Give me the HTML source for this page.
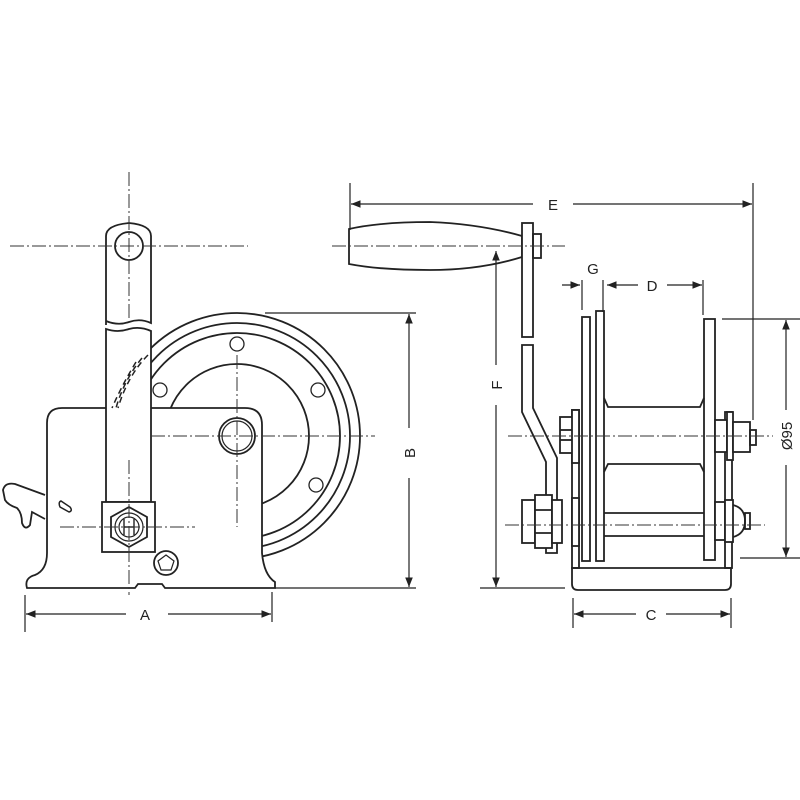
<!DOCTYPE html>
<html><head><meta charset="utf-8"><style>
html,body{margin:0;padding:0;background:#fff}
svg{display:block}
text{font-family:"Liberation Sans",sans-serif;font-size:15px;fill:#222}
</style></head><body>
<svg width="800" height="800" viewBox="0 0 800 800" xmlns="http://www.w3.org/2000/svg">
<defs>
<marker id="ar" viewBox="0 0 10 10" refX="10" refY="5" markerWidth="8" markerHeight="8" orient="auto-start-reverse"><path d="M0,1 L10,5 L0,9 z" fill="#222"/></marker>
</defs>
<g fill="none" stroke="#222" stroke-width="1.8">
<!-- LEFT VIEW: drum circles -->
<circle cx="237" cy="436" r="123"/>
<circle cx="237" cy="436" r="113"/>
<circle cx="237" cy="436" r="103"/>
<circle cx="237" cy="436" r="72"/>
<g stroke-width="1.3">
<circle cx="237" cy="344" r="7"/><circle cx="160" cy="390" r="7"/><circle cx="318" cy="390" r="7"/><circle cx="316" cy="485" r="7"/>
</g>
<!-- body -->
<path d="M62,408 L245,408 Q262,408 262,425 L262,553 Q264,575 275,582 L275,588 L165,588 L162,584 L138,584 L135,588 L27,588 Q24,578 35,575 Q47,570 47,553 L47,423 Q47,408 62,408 Z" fill="#fff"/>
<!-- hub -->
<circle cx="237" cy="436" r="18"/>
<circle cx="237" cy="436" r="15" stroke-width="1.2"/>
<!-- arm -->
<path d="M106,325 L106,236 Q106,225 129,223 Q151,225 151,236 L151,323 Q140,318 129,322 Q118,326 106,321" fill="#fff"/>
<path d="M106,329 Q118,333 129,329 Q140,326 151,331 L151,502 L106,502 Z" fill="#fff"/>
<circle cx="129" cy="246" r="14" fill="#fff"/>
<path d="M148,355 Q128,375 118,408 M142,358 Q124,380 116,408 M136,362 Q122,385 112,408" stroke-dasharray="6,4" stroke-width="1.5"/>
<!-- nut box -->
<rect x="102" y="502" width="53" height="50" fill="#fff"/>
<polygon points="129,507 147,517 147,537 129,547 111,537 111,517"/>
<circle cx="129" cy="527" r="14" stroke-width="1.2"/>
<circle cx="129" cy="527" r="10" stroke-width="1.2"/>
<path d="M124,519 L124,535 M134,519 L134,535 M124,527 L134,527" stroke-width="1.4"/>
<circle cx="166" cy="563" r="12"/>
<polygon points="166,555 174,561 171,570 161,570 158,561" stroke-width="1.2"/>
<!-- slot -->
<path d="M61,501 L70,507 Q73,511 69,512 L60,507 Q58,502 61,501 Z" stroke-width="1.5"/>
<!-- lever -->
<path d="M45,495 L15,484 Q5,482 3,490 L5,500 Q8,505 17,508 Q22,513 22,523 Q25,531 30,525 L32,512 L45,519"/>
</g>
<!-- left centre lines -->
<g stroke="#333" stroke-width="1" stroke-dasharray="14,3,2,3" fill="none">
<line x1="129" y1="172" x2="129" y2="320"/>
<line x1="10" y1="246" x2="248" y2="246"/>
<line x1="237" y1="355" x2="237" y2="527"/>
<line x1="151" y1="436" x2="375" y2="436"/>
<line x1="60" y1="527" x2="195" y2="527"/>
<line x1="129" y1="460" x2="129" y2="595"/>
</g>
<!-- dims left -->
<g stroke="#222" stroke-width="1.2" fill="none">
<line x1="25" y1="595" x2="25" y2="632"/>
<line x1="272" y1="592" x2="272" y2="622"/>
<line x1="26" y1="614" x2="126" y2="614" marker-start="url(#ar)"/>
<line x1="168" y1="614" x2="271" y2="614" marker-end="url(#ar)"/>
<line x1="265" y1="313" x2="416" y2="313"/>
<line x1="275" y1="588" x2="416" y2="588"/>
<line x1="409" y1="314" x2="409" y2="428" marker-start="url(#ar)"/>
<line x1="409" y1="478" x2="409" y2="587" marker-end="url(#ar)"/>
</g>
<text x="145" y="620" text-anchor="middle">A</text>
<text transform="translate(415,453) rotate(-90)" text-anchor="middle">B</text>

<!-- RIGHT VIEW -->
<g fill="none" stroke="#222" stroke-width="1.8">
<path d="M349,229 Q380,222 430,222 Q480,224 522,236 L522,257 Q480,270 430,270 Q380,270 349,264 Z" fill="#fff"/>
<rect x="522" y="223" width="11" height="114" fill="#fff"/>
<rect x="533" y="234" width="8" height="24"/>
<path d="M522,345 L533,345 L533,408 L557,458 L557,553 L546,553 L546,462 L522,412 Z" fill="#fff"/>
<!-- base & frame -->
<path d="M572,568 L731,568 L731,584 Q731,590 725,590 L578,590 Q572,590 572,584 Z"/>
<rect x="572" y="410" width="7" height="158"/>
<rect x="725" y="412" width="7" height="156"/>
<!-- flanges -->
<rect x="582" y="317" width="8" height="244" fill="#fff"/>
<rect x="596" y="311" width="8" height="250" fill="#fff"/>
<rect x="704" y="319" width="11" height="241" fill="#fff"/>
<!-- barrel -->
<path d="M604,398 L608,407 L700,407 L704,398"/>
<path d="M604,472 L608,464 L700,464 L704,472"/>
<line x1="604" y1="513" x2="704" y2="513"/>
<line x1="604" y1="536" x2="704" y2="536"/>
<!-- upper bolts -->
<rect x="560" y="417" width="15" height="36" fill="#fff"/>
<line x1="560" y1="430" x2="575" y2="430"/><line x1="560" y1="440" x2="575" y2="440"/>
<rect x="572" y="410" width="7" height="53" fill="#fff"/>
<rect x="715" y="420" width="12" height="32" fill="#fff"/>
<rect x="727" y="412" width="6" height="48" fill="#fff"/>
<rect x="733" y="422" width="17" height="30" fill="#fff"/>
<rect x="750" y="430" width="6" height="15"/>
<!-- lower bolts -->
<rect x="522" y="500" width="13" height="43" fill="#fff"/>
<rect x="535" y="495" width="17" height="53" fill="#fff"/>
<line x1="535" y1="510" x2="552" y2="510"/><line x1="535" y1="533" x2="552" y2="533"/>
<rect x="552" y="500" width="10" height="43" fill="#fff"/>
<rect x="572" y="498" width="7" height="48" fill="#fff"/>
<rect x="715" y="502" width="10" height="38" fill="#fff"/>
<rect x="725" y="500" width="8" height="42" fill="#fff"/>
<path d="M733,505 Q745,508 745,521 Q745,534 733,537"/>
<rect x="745" y="513" width="5" height="16"/>
</g>
<g stroke="#333" stroke-width="1" stroke-dasharray="14,3,2,3" fill="none">
<line x1="332" y1="246" x2="565" y2="246"/>
<line x1="508" y1="436" x2="773" y2="436"/>
<line x1="505" y1="525" x2="765" y2="525"/>
</g>
<!-- dims right -->
<g stroke="#222" stroke-width="1.2" fill="none">
<line x1="350" y1="183" x2="350" y2="230"/>
<line x1="753" y1="183" x2="753" y2="420"/>
<line x1="351" y1="204" x2="533" y2="204" marker-start="url(#ar)"/>
<line x1="573" y1="204" x2="752" y2="204" marker-end="url(#ar)"/>
<line x1="496" y1="251" x2="496" y2="365" marker-start="url(#ar)"/>
<line x1="496" y1="405" x2="496" y2="587" marker-end="url(#ar)"/>
<line x1="480" y1="588" x2="565" y2="588"/>
<line x1="562" y1="285" x2="580" y2="285" marker-end="url(#ar)"/>
<line x1="582" y1="280" x2="582" y2="310"/>
<line x1="603" y1="280" x2="603" y2="312"/>
<line x1="607" y1="285" x2="638" y2="285" marker-start="url(#ar)"/>
<line x1="667" y1="285" x2="702" y2="285" marker-end="url(#ar)"/>
<line x1="703" y1="280" x2="703" y2="315"/>
<line x1="722" y1="319" x2="800" y2="319"/>
<line x1="740" y1="558" x2="800" y2="558"/>
<line x1="786" y1="320" x2="786" y2="410" marker-start="url(#ar)"/>
<line x1="786" y1="465" x2="786" y2="557" marker-end="url(#ar)"/>
<line x1="573" y1="598" x2="573" y2="628"/>
<line x1="731" y1="598" x2="731" y2="628"/>
<line x1="574" y1="614" x2="636" y2="614" marker-start="url(#ar)"/>
<line x1="666" y1="614" x2="730" y2="614" marker-end="url(#ar)"/>
</g>
<text x="553" y="210" text-anchor="middle">E</text>
<text x="593" y="274" text-anchor="middle">G</text>
<text x="652" y="291" text-anchor="middle">D</text>
<text x="651" y="620" text-anchor="middle">C</text>
<text transform="translate(502,385) rotate(-90)" text-anchor="middle">F</text>
<text transform="translate(792,436) rotate(-90)" text-anchor="middle">Ø95</text>
</svg>
</body></html>
